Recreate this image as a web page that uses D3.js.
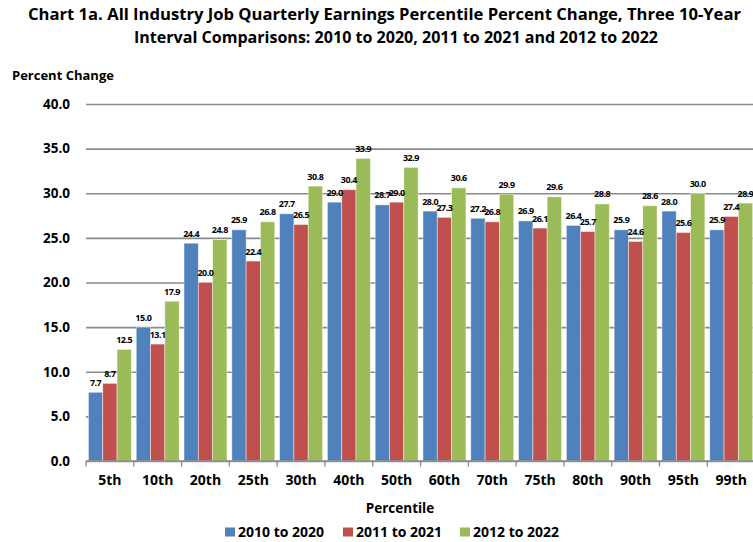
<!DOCTYPE html>
<html>
<head>
<meta charset="utf-8">
<script src="https://cdn.jsdelivr.net/npm/d3@7"></script>
<style>
  html, body { margin: 0; padding: 0; background: #ffffff; }
  svg { display: block; font-family: "Open Sans", "Liberation Sans", sans-serif; font-weight: bold; }
</style>
</head>
<body>
<svg id="chart" width="753" height="542"></svg>
<script>
// Percentile groups along the x axis
const percentiles = ["5th", "10th", "20th", "25th", "30th", "40th", "50th", "60th", "70th", "75th", "80th", "90th", "95th", "99th"];

// Ten-year comparison windows
const seriesNames = ["2010 to 2020", "2011 to 2021", "2012 to 2022"];
const seriesColors = ["#4F81BD", "#C0504D", "#9BBB59"];

// Percent change in quarterly earnings for each window
const change2010to2020 = [7.7, 15.0, 24.4, 25.9, 27.7, 29.0, 28.7, 28.0, 27.2, 26.9, 26.4, 25.9, 28.0, 25.9];
const change2011to2021 = [8.7, 13.1, 20.0, 22.4, 26.5, 30.4, 29.0, 27.3, 26.8, 26.1, 25.7, 24.6, 25.6, 27.4];
const change2012to2022 = [12.5, 17.9, 24.8, 26.8, 30.8, 33.9, 32.9, 30.6, 29.9, 29.6, 28.8, 28.6, 30.0, 28.9];

const yTicks = [0, 5, 10, 15, 20, 25, 30, 35, 40];

const seriesValues = [change2010to2020, change2011to2021, change2012to2022];
const rows = percentiles.map((p, i) => ({
  percentile: p,
  values: seriesNames.map((name, s) => ({ name, s, value: seriesValues[s][i] }))
}));

const svg = d3.select("#chart");

const plot = { left: 86, right: 755.1, top: 104, bottom: 461 };

const x0 = d3.scaleBand().domain(percentiles).range([plot.left, plot.right]).paddingInner(0).paddingOuter(0);
const x1 = d3.scaleBand().domain(seriesNames).range([0, x0.bandwidth()]).paddingInner(0).paddingOuter(0.17);
const y = d3.scaleLinear().domain([0, 40]).range([plot.bottom, plot.top]);

// Title
const title = svg.append("g").attr("fill", "#000");
title.append("text")
  .attr("x", 384.5).attr("y", 20)
  .attr("text-anchor", "middle")
  .attr("font-size", 16)
  .attr("textLength", 713).attr("lengthAdjust", "spacingAndGlyphs")
  .text("Chart 1a. All Industry Job Quarterly Earnings Percentile Percent Change, Three 10-Year");
title.append("text")
  .attr("x", 396).attr("y", 43)
  .attr("text-anchor", "middle")
  .attr("font-size", 16)
  .attr("textLength", 524).attr("lengthAdjust", "spacingAndGlyphs")
  .text("Interval Comparisons: 2010 to 2020, 2011 to 2021 and 2012 to 2022");

// Y axis title
svg.append("text")
  .attr("x", 12).attr("y", 80)
  .attr("font-size", 13)
  .text("Percent Change");

// Horizontal gridlines with tick labels
const yAxis = d3.axisLeft(y)
  .tickValues(yTicks)
  .tickSize(-(753 - plot.left))
  .tickPadding(16)
  .tickFormat(d3.format(".1f"));

const yg = svg.append("g")
  .attr("transform", `translate(${plot.left},0)`)
  .call(yAxis);
yg.select(".domain").remove();
yg.selectAll(".tick line").attr("stroke", "#8a8a8a").attr("stroke-width", 1.6);
yg.selectAll(".tick text")
  .attr("fill", "#000")
  .attr("font-size", 13.5)
  .attr("font-family", "\"Open Sans\", sans-serif")
  .attr("font-weight", "bold");

// Bars
const groups = svg.append("g")
  .selectAll("g")
  .data(rows)
  .join("g")
  .attr("transform", d => `translate(${x0(d.percentile)},0)`);

groups.selectAll("rect")
  .data(d => d.values)
  .join("rect")
  .attr("x", d => x1(d.name))
  .attr("y", d => y(d.value))
  .attr("width", x1.bandwidth())
  .attr("height", d => y(0) - y(d.value))
  .attr("fill", d => seriesColors[d.s])
  .attr("stroke", "rgba(255,255,255,0.55)")
  .attr("stroke-width", 0.8);

// Value labels above each bar
groups.selectAll("text")
  .data(d => d.values)
  .join("text")
  .attr("x", d => x1(d.name) + x1.bandwidth() / 2)
  .attr("y", d => y(d.value) - 6.5)
  .attr("text-anchor", "middle")
  .attr("font-size", 9)
  .attr("letter-spacing", -0.5)
  .attr("fill", "#000")
  .text(d => d3.format(".1f")(d.value));

// Category axis along the bottom
const xAxis = d3.axisBottom(x0).tickSize(0).tickPadding(14);
const xg = svg.append("g")
  .attr("transform", `translate(0,${plot.bottom})`)
  .call(xAxis);
xg.select(".domain").remove();
xg.selectAll(".tick text")
  .attr("fill", "#000")
  .attr("font-size", 14)
  .attr("font-family", "\"Open Sans\", sans-serif")
  .attr("font-weight", "bold");

svg.append("line")
  .attr("x1", plot.left).attr("x2", 753)
  .attr("y1", plot.bottom).attr("y2", plot.bottom)
  .attr("stroke", "#8a8a8a").attr("stroke-width", 1.6);

// Tick marks at the group boundaries
svg.append("g")
  .selectAll("line")
  .data(percentiles)
  .join("line")
  .attr("x1", d => x0(d)).attr("x2", d => x0(d))
  .attr("y1", plot.bottom).attr("y2", plot.bottom + 5.5)
  .attr("stroke", "#8a8a8a").attr("stroke-width", 1.3);

// X axis title
svg.append("text")
  .attr("x", 400).attr("y", 513)
  .attr("text-anchor", "middle")
  .attr("font-size", 13.5)
  .text("Percentile");

// Legend
const legendX = [225, 343, 460];
const legend = svg.append("g")
  .selectAll("g")
  .data(seriesNames)
  .join("g")
  .attr("transform", (d, i) => `translate(${legendX[i]},527.5)`);
legend.append("rect")
  .attr("width", 10).attr("height", 9)
  .attr("fill", (d, i) => seriesColors[i]);
legend.append("text")
  .attr("x", 13).attr("y", 9.5)
  .attr("font-size", 14)
  .text(d => d);
</script>
</body>
</html>
